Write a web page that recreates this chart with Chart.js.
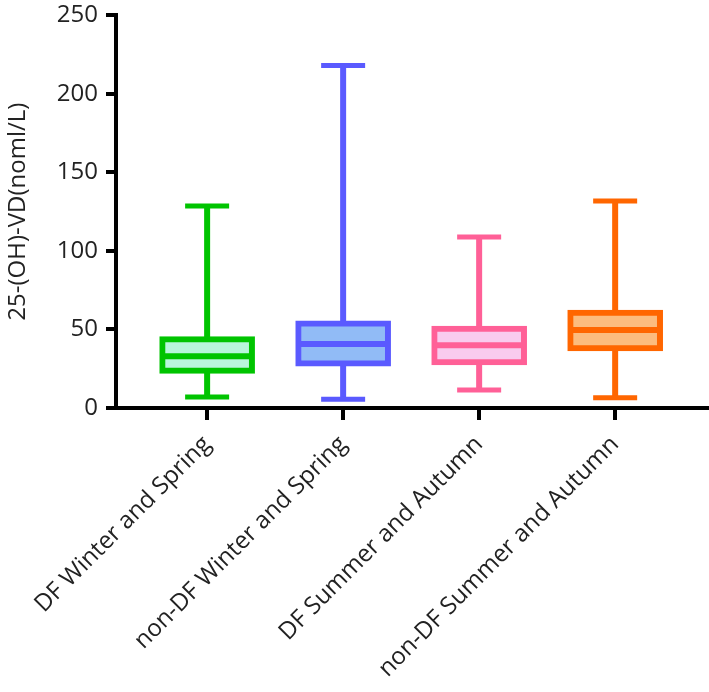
<!DOCTYPE html>
<html>
<head>
<meta charset="utf-8">
<script src="https://cdn.jsdelivr.net/npm/chart.js@4/dist/chart.umd.min.js"></script>
<style>
  html, body { margin: 0; padding: 0; background: #fff; }
  canvas { display: block; }
</style>
</head>
<body>
<canvas id="grafico" width="709" height="692"></canvas>
<script>
// Datos (caja y bigotes)
const categorias = ['DF Winter and Spring', 'non-DF Winter and Spring', 'DF Summer and Autumn', 'non-DF Summer and Autumn'];
const minimos = [7, 5.5, 11.5, 6.5];
const cuartil1 = [22, 26.7, 27.4, 36.3];
const medianas = [33, 40.7, 40, 49.6];
const cuartil3 = [45.4, 55.5, 52.2, 62.3];
const maximos = [128.5, 218, 108.8, 131.7];
const ticksY = [0, 50, 100, 150, 200, 250];

const colorBorde = ['#00c400', '#5a5aff', '#ff6097', '#ff6600'];
const colorRelleno = ['#b8f6db', '#91bbf6', '#f9cbee', '#fcbc7e'];

const familia = '"Open Sans", "Noto Sans", sans-serif';

// Bigotes y medianas dibujados con las escalas del grafico
const bigotes = {
    id: 'bigotes',
    beforeDatasetsDraw(chart) {
        const { ctx, scales: { x, y } } = chart;
        ctx.save();
        categorias.forEach((c, i) => {
            const px = x.getPixelForValue(i);
            const yMin = y.getPixelForValue(minimos[i]);
            const yMax = y.getPixelForValue(maximos[i]);
            ctx.strokeStyle = colorBorde[i];
            ctx.lineWidth = 6;
            ctx.beginPath();
            ctx.moveTo(px, yMin);
            ctx.lineTo(px, yMax);
            ctx.stroke();
            ctx.lineWidth = 5;
            ctx.beginPath();
            ctx.moveTo(px - 22, yMin);
            ctx.lineTo(px + 22, yMin);
            ctx.moveTo(px - 22, yMax);
            ctx.lineTo(px + 22, yMax);
            ctx.stroke();
        });
        ctx.restore();
    },
    afterDatasetsDraw(chart) {
        const { ctx, scales: { x, y } } = chart;
        ctx.save();
        ctx.lineWidth = 6;
        categorias.forEach((c, i) => {
            const px = x.getPixelForValue(i);
            const yMed = y.getPixelForValue(medianas[i]);
            ctx.strokeStyle = colorBorde[i];
            ctx.beginPath();
            ctx.moveTo(px - 46, yMed);
            ctx.lineTo(px + 46, yMed);
            ctx.stroke();
        });
        ctx.restore();
    }
};

let ctx = document.getElementById('grafico').getContext('2d');
let grafico = new Chart(ctx, {
    type: 'bar',
    data: {
        datasets: [{
            data: categorias.map((c, i) => ({ x: i, y: [cuartil1[i], cuartil3[i]] })),
            backgroundColor: colorRelleno,
            borderColor: colorBorde,
            borderWidth: 6,
            borderSkipped: false,
            barThickness: 95
        }]
    },
    options: {
        responsive: false,
        animation: false,
        layout: { padding: { left: 0, top: 0, right: 0, bottom: 0 } },
        plugins: {
            legend: { display: false },
            tooltip: { enabled: false }
        },
        scales: {
            x: {
                type: 'linear',
                offset: false,
                min: -0.67,
                max: 3.69,
                afterBuildTicks: scale => {
                    scale.ticks = categorias.map((c, i) => ({ value: i }));
                },
                afterFit: scale => { scale.height = 284; },
                grid: { offset: false, drawOnChartArea: false, color: '#000', lineWidth: 4, tickLength: 12 },
                border: { color: '#000', width: 4 },
                ticks: {
                    color: '#222',
                    font: { family: familia, size: 24, lineHeight: 1 },
                    minRotation: 45,
                    maxRotation: 45,
                    padding: 12,
                    callback: v => categorias[v]
                }
            },
            y: {
                min: 0,
                max: 250,
                afterBuildTicks: scale => {
                    scale.ticks = ticksY.map(v => ({ value: v }));
                },
                afterFit: scale => { scale.width = 116; },
                grid: { drawOnChartArea: false, color: '#000', lineWidth: 4, tickLength: 10 },
                border: { color: '#000', width: 4 },
                ticks: { color: '#222', font: { family: familia, size: 24, lineHeight: 0.6 }, padding: 8 },
                title: {
                    display: true,
                    text: '25-(OH)-VD(noml/L)',
                    color: '#222',
                    font: { family: familia, size: 24 },
                    padding: 4
                }
            }
        }
    },
    plugins: [bigotes]
});
</script>
</body>
</html>
